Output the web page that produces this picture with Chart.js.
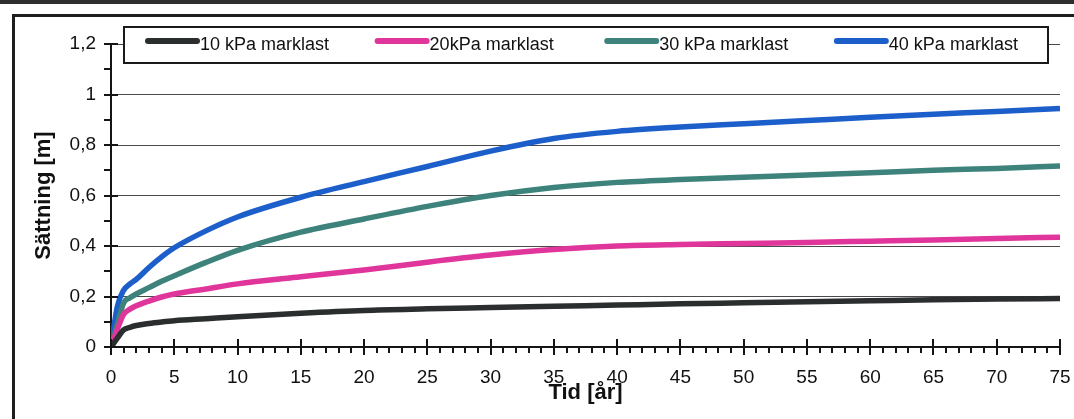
<!DOCTYPE html>
<html><head><meta charset="utf-8">
<script src="https://cdn.jsdelivr.net/npm/chart.js@4.4.0/dist/chart.umd.min.js"></script>
<style>
html,body{margin:0;padding:0;background:#fff;}
body{width:1074px;height:419px;position:relative;overflow:hidden;font-family:"Liberation Sans",Arial,sans-serif;}
#topbar{position:absolute;left:0;top:0;width:1074px;height:4px;background:#2e2e2e;}
#frame{position:absolute;left:12px;top:14px;width:1090px;height:430px;border-left:3px solid #1e1e1e;border-top:3px solid #1e1e1e;}
#chart{position:absolute;left:0;top:0;}
</style></head><body>
<div id="topbar"></div><div id="frame"></div>
<canvas id="chart" width="1074" height="419"></canvas>
<script>
// tid i år, sättning i m
const tid  =[0, 0.5,  1,     1.5,  2,    3,    4,    5,    7.5,  10,   15,   20,   25,   30,   35,   40,   45,   50,   55,   60,   65,   70,   75];
const s10kPa=[0, 0.035,0.068, 0.078,0.085,0.093,0.099,0.104,0.112,0.12, 0.134,0.145,0.151,0.156,0.161,0.166,0.171,0.175,0.179,0.183,0.187,0.19, 0.192];
const s20kPa=[0, 0.07, 0.13,  0.15, 0.163,0.182,0.198,0.21, 0.23, 0.25, 0.278,0.305,0.336,0.364,0.386,0.400,0.406,0.41, 0.414,0.419,0.424,0.43, 0.435];
const s30kPa=[0, 0.09, 0.175, 0.195,0.21, 0.235,0.26, 0.282,0.335,0.383,0.455,0.507,0.557,0.600,0.632,0.652,0.663,0.672,0.681,0.69, 0.70, 0.707,0.717];
const s40kPa=[0, 0.16, 0.225, 0.25, 0.268,0.315,0.357,0.393,0.46, 0.515,0.593,0.655,0.715,0.776,0.826,0.854,0.871,0.884,0.897,0.91, 0.922,0.933,0.945];
const seriesNames=["10 kPa marklast","20kPa marklast","30 kPa marklast","40 kPa marklast"];
const seriesColors=["#2b2e2e","#e0369b","#3d837b","#1d5fca"];
const yMax=1.2, xMax=75;

const FONT='"Liberation Sans", Arial, sans-serif';
const pts=(vals)=>tid.map((t,i)=>({x:t,y:vals[i]}));
const isMajorY=(v)=>Math.round(v*10)%2===0;
const fmt=(v)=>String(Math.round(v*10)/10).replace('.',',');

const axisMarks={
  id:'axisMarks',
  afterDraw(chart){
    const {ctx,chartArea:a,scales:{x,y}}=chart;
    ctx.save();
    ctx.strokeStyle='#151515'; ctx.lineWidth=2; ctx.beginPath();
    y.ticks.forEach(t=>{const py=Math.round(y.getPixelForValue(t.value));
      ctx.moveTo(a.left-7,py); ctx.lineTo(a.left+(isMajorY(t.value)?7:0),py);});
    x.ticks.forEach(t=>{const px=Math.round(x.getPixelForValue(t.value)); const m=t.value%5===0;
      ctx.moveTo(px,a.bottom-(m?8:0)); ctx.lineTo(px,a.bottom+(m?8:6));});
    ctx.stroke();
    // legend box
    const bx=a.left+13, by=a.top-17, bw=a.width-25, bh=36;
    ctx.fillStyle='#fff'; ctx.fillRect(bx,by,bw,bh);
    ctx.strokeStyle='#1a1a1a'; ctx.lineWidth=2; ctx.strokeRect(bx,by,bw,bh);
    ctx.font='18px '+FONT; ctx.textBaseline='middle'; ctx.textAlign='left';
    chart.data.datasets.forEach((ds,i)=>{
      const lx=bx+24+i*bw*0.2485;
      ctx.strokeStyle=ds.borderColor; ctx.lineWidth=6; ctx.lineCap='round';
      ctx.beginPath(); ctx.moveTo(lx,by+14); ctx.lineTo(lx+49,by+14); ctx.stroke();
      ctx.fillStyle='#111'; ctx.fillText(ds.label,lx+52,by+18);
    });
    ctx.restore();
  }
};

new Chart(document.getElementById('chart'),{
  type:'line',
  data:{datasets:[s10kPa,s20kPa,s30kPa,s40kPa].map((v,i)=>({
    label:seriesNames[i], data:pts(v), borderColor:seriesColors[i], backgroundColor:seriesColors[i],
    borderWidth:5.5, pointRadius:0, cubicInterpolationMode:'monotone', borderJoinStyle:'round', fill:false
  }))},
  options:{
    responsive:false, animation:false, events:[],
    layout:{padding:{left:0,right:14,top:44,bottom:0}},
    plugins:{legend:{display:false}, tooltip:{enabled:false}},
    scales:{
      x:{type:'linear', min:0, max:xMax,
        afterFit:(s)=>{s.height=72; s.paddingRight=0; s.paddingLeft=0;},
        grid:{display:false, drawTicks:false},
        border:{display:true,color:'#151515',width:2},
        ticks:{stepSize:1, autoSkip:false, maxRotation:0, padding:19, color:'#111', font:{family:FONT,size:19},
          callback:(v)=>v%5===0?String(v):''},
        title:{display:true,text:'Tid [år]',color:'#111',font:{family:FONT,size:22,weight:'bold'},padding:{top:0,bottom:13}}
      },
      y:{min:0, max:yMax,
        afterFit:(s)=>{s.width=111;},
        grid:{drawTicks:false, color:(c)=>isMajorY(c.tick.value)?'#4a4a4a':'rgba(0,0,0,0)', lineWidth:1},
        border:{display:true,color:'#151515',width:2},
        ticks:{stepSize:0.1, autoSkip:false, padding:15, color:'#111', font:{family:FONT,size:19},
          callback:(v)=>isMajorY(v)?fmt(v):''},
        title:{display:true,text:'Sättning [m]',color:'#111',font:{family:FONT,size:22,weight:'bold'},padding:{top:31,bottom:0}}
      }
    }
  },
  plugins:[axisMarks]
});
</script>
</body></html>
